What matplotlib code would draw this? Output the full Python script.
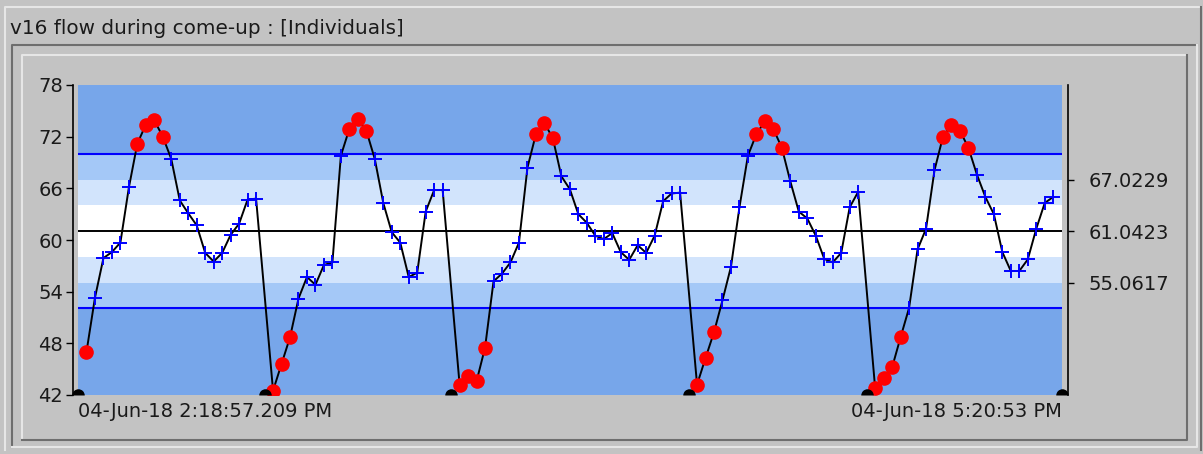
import numpy as np
import matplotlib.pyplot as plt

# flow readings in sample order; None = no reading (marked on the axis floor)
flow = [None, 47.0, 53.3, 57.9, 58.6, 59.7, 66.1, 71.2, 73.4, 73.9, 72.0,
        69.4, 64.6, 63.1, 61.7, 58.5, 57.5, 58.5, 60.6, 61.9, 64.7, 64.8,
        None, 42.5, 45.6, 48.7, 53.2, 55.7, 54.8, 57.1, 57.4, 69.8, 72.9, 74.1, 72.7,
        69.4, 64.3, 60.9, 59.7, 55.7, 56.2, 63.3, 65.8, 65.8,
        None, 43.2, 44.2, 43.6, 47.5, 55.2, 56.1, 57.4, 59.7, 68.4, 72.3, 73.6, 71.8,
        67.4, 65.9, 63.0, 62.0, 60.5, 60.1, 60.8, 58.6, 57.7, 59.4, 58.5, 60.5,
        64.5, 65.4, 65.5,
        None, 43.2, 46.3, 49.3, 53.0, 56.9, 63.8, 69.8, 72.3, 73.8, 72.9, 70.7,
        66.8, 63.3, 62.5, 60.5, 57.8, 57.4, 58.5, 63.8, 65.6,
        None, 42.8, 44.0, 45.2, 48.7, 52.1, 58.9, 61.3, 68.1, 72.0, 73.4, 72.7, 70.7,
        67.6, 65.0, 63.0, 58.6, 56.4, 56.4, 57.75, 61.3, 64.3, 65.0,
        None]

center = 61.0423
sigma = 2.9903
y_ticks = [42, 48, 54, 60, 66, 72, 78]
x_labels = ["04-Jun-18 2:18:57.209 PM", "04-Jun-18 5:20:53 PM"]
title = "v16 flow during come-up : [Individuals]"

bg = "#c3c3c3"
band_cols = ["#77a6ea", "#a4c8f7", "#d2e4fc", "#ffffff"]
txt = "#1a1a1a"

W, H = 1203, 454
plt.rcParams['font.family'] = ['DejaVu Sans']
fig = plt.figure(figsize=(W / 100, H / 100), dpi=100, facecolor=bg)

# window frame, drawn in pixel units
frame = fig.add_axes([0, 0, 1, 1], zorder=-1)
frame.set_xlim(0, W)
frame.set_ylim(H, 0)
frame.axis('off')
light, dark = "#e6e6e6", "#6e6e6e"
frame.plot([5, 5, 1201], [450, 7, 7], color=light, lw=1.5)
frame.plot([1201, 1201], [7, 450], color=dark, lw=1.5)
frame.plot([12, 12, 1197], [447, 45, 45], color=dark, lw=1.5)
frame.plot([12, 1197, 1197], [447, 447, 45], color=light, lw=1.5)
frame.plot([22, 22, 1187], [440, 55, 55], color=light, lw=1.5)
frame.plot([22, 1187, 1187], [440, 440, 55], color=dark, lw=1.5)
fig.text(10 / W, 1 - 28 / H, title, ha='left', va='center', fontsize=14.4, color=txt)

ax = fig.add_axes([78 / W, 1 - 395 / H, (1061.7 - 78) / W, (395 - 85) / H])
n = len(flow)
xs = np.arange(n)
ymin, ymax = y_ticks[0], y_ticks[-1]
ax.set_xlim(0, n - 1)
ax.set_ylim(ymin, ymax)

# zone shading
ax.axhspan(ymin, ymax, color=band_cols[0], lw=0, zorder=0)
for k, c in zip([3, 2, 1], band_cols[1:]):
    ax.axhspan(center - k * sigma, center + k * sigma, color=c, lw=0, zorder=0)
ax.axhline(center + 3 * sigma, color="#0000ff", lw=1.5, zorder=1)
ax.axhline(center - 3 * sigma, color="#0000ff", lw=1.5, zorder=1)
ax.axhline(center, color="black", lw=1.4, zorder=1)

vals = np.array([np.nan if v is None else v for v in flow])
ok = ~np.isnan(vals)
ax.plot(xs[ok], vals[ok], color="black", lw=1.4, zorder=2)
out = ok & ((vals > center + 3 * sigma) | (vals < center - 3 * sigma))
inn = ok & ~out
ax.plot(xs[inn], vals[inn], ls='none', marker='+', ms=10, mew=1.4,
        color="#0000ff", zorder=3)
ax.plot(xs[out], vals[out], ls='none', marker='o', ms=9.5, color="#ff0000",
        mec="#ff0000", zorder=4)
ax.plot(xs[~ok], np.full((~ok).sum(), ymin), ls='none', marker='o', ms=9,
        fillstyle='top', color="black", mew=0, clip_on=False, zorder=5)

for s in ['top', 'right', 'bottom']:
    ax.spines[s].set_visible(False)
ax.spines['left'].set_position(('outward', 3.6))
ax.spines['left'].set_linewidth(1.2)
ax.set_yticks(y_ticks)
ax.tick_params(axis='y', direction='out', length=5, width=1, pad=2,
               labelsize=14, labelcolor=txt)
ax.set_xticks([0, n - 1])
ax.set_xticklabels(x_labels)
ax.tick_params(axis='x', length=0, pad=5, labelsize=14, labelcolor=txt)
xl = ax.get_xticklabels()
xl[0].set_ha('left')
xl[1].set_ha('right')

ax2 = ax.twinx()
ax2.set_ylim(ymin, ymax)
for s in ['top', 'left', 'bottom']:
    ax2.spines[s].set_visible(False)
ax2.spines['right'].set_position(('outward', 4.3))
ax2.spines['right'].set_linewidth(1.2)
r_ticks = [center - 2 * sigma, center, center + 2 * sigma]
ax2.set_yticks(r_ticks)
ax2.set_yticklabels(["%.4f" % t for t in r_ticks])
ax2.tick_params(axis='y', direction='out', length=4, width=1, pad=11,
                labelsize=14, labelcolor=txt)

fig.savefig("out.png", dpi=100, facecolor=bg)
